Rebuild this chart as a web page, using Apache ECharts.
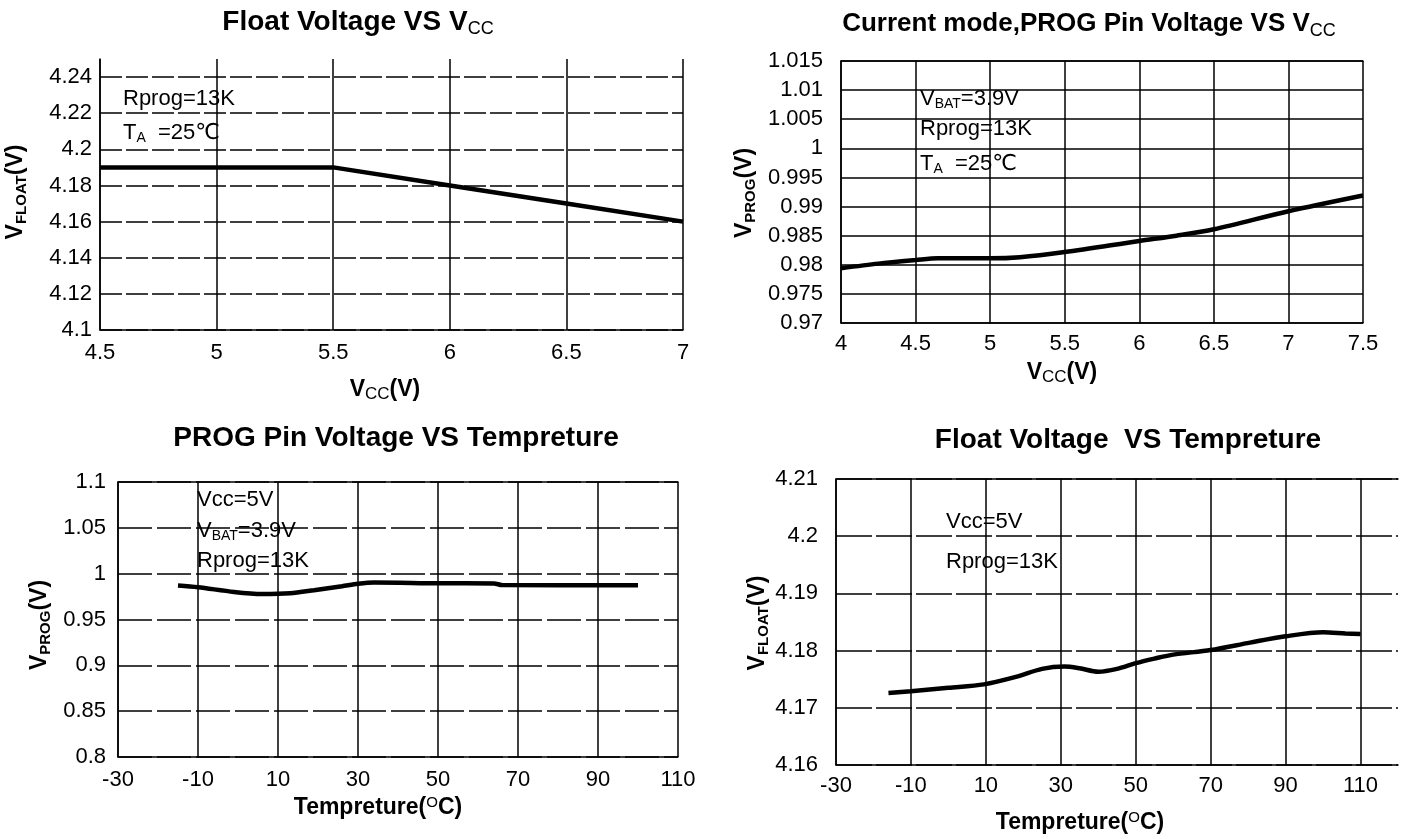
<!DOCTYPE html>
<html>
<head>
<meta charset="utf-8">
<script src="https://cdn.jsdelivr.net/npm/echarts@6/dist/echarts.min.js"></script>
<style>
html,body{margin:0;padding:0;background:#fff;}
#c{width:1410px;height:839px;}
</style>
</head>
<body>
<div id="c"></div>
<script>
// ---------- Data ----------
// Chart 1: Float Voltage VS Vcc
const vcc1 = [4.5, 5.0, 5.5, 6.0, 6.5, 7.0];
const vfloat1 = [4.19, 4.19, 4.19, 4.18, 4.17, 4.16];
const xTicks1 = [4.5, 5, 5.5, 6, 6.5, 7];
const yTicks1 = [4.1, 4.12, 4.14, 4.16, 4.18, 4.2, 4.22, 4.24];

// Chart 2: Current mode, PROG Pin Voltage VS Vcc
const vcc2 = [4.0, 4.25, 4.5, 4.65, 5.0, 5.2, 5.5, 6.0, 6.25, 6.5, 7.0, 7.5];
const vprog2 = [0.9794, 0.9802, 0.9808, 0.9811, 0.9811, 0.9813, 0.9822, 0.9841, 0.985, 0.9861, 0.9892, 0.9919];
const xTicks2 = [4, 4.5, 5, 5.5, 6, 6.5, 7, 7.5];
const yTicks2 = [0.97, 0.975, 0.98, 0.985, 0.99, 0.995, 1, 1.005, 1.01, 1.015];

// Chart 3: PROG Pin Voltage VS Temperature
const temp3 = [-15, -10, -1, 6, 13, 19, 26, 30, 34, 50, 64, 66, 100];
const vprog3 = [0.9871, 0.9852, 0.9801, 0.9779, 0.9787, 0.982, 0.9863, 0.989, 0.9904, 0.9895, 0.9893, 0.9876, 0.9874];
const xTicks3 = [-30, -10, 10, 30, 50, 70, 90, 110];
const yTicks3 = [0.8, 0.85, 0.9, 0.95, 1, 1.05, 1.1];

// Chart 4: Float Voltage VS Temperature
const temp4 = [-16, -10, 0, 9.5, 18, 25, 31, 35, 40, 45, 50, 55, 60, 70, 80.5, 90, 100, 106, 110];
const vfloat4 = [4.1726, 4.1729, 4.1735, 4.1741, 4.1754, 4.1768, 4.1772, 4.1769, 4.1763, 4.1768, 4.1778, 4.1786, 4.1793, 4.1801, 4.1814, 4.1825, 4.1832, 4.1830, 4.1829];
const xTicks4 = [-30, -10, 10, 30, 50, 70, 90, 110];
const yTicks4 = [4.16, 4.17, 4.18, 4.19, 4.2, 4.21];

// ---------- Helpers ----------
const FONT = '"Liberation Sans", Arial, "DejaVu Sans", sans-serif';
const fmt = v => String(+(+v).toFixed(4));
const zip = (a, b) => a.map((v, i) => [v, b[i]]);

function mkX(gi, min, max, ticks, margin) {
  return {
    type: 'value', gridIndex: gi, min: min, max: max, position: 'bottom',
    axisLine: {show: true, onZero: false, lineStyle: {color: '#000', width: 1.5}},
    axisTick: {show: false, customValues: ticks},
    axisLabel: {customValues: ticks, color: '#000', fontFamily: FONT, fontSize: 22, margin: margin, formatter: fmt},
    splitLine: {show: true, lineStyle: {color: '#000', width: 1.5, type: 'solid'}}
  };
}
function mkTop(gi, min, max) {
  return {
    type: 'value', gridIndex: gi, min: min, max: max, position: 'top',
    axisLine: {show: true, onZero: false, lineStyle: {color: '#000', width: 1.5}},
    axisTick: {show: false}, axisLabel: {show: false}, splitLine: {show: false}
  };
}
function mkY(gi, min, max, ticks, margin, dash) {
  return {
    type: 'value', gridIndex: gi, min: min, max: max,
    axisLine: {show: true, onZero: false, lineStyle: {color: '#000', width: 1.5}},
    axisTick: {show: false, customValues: ticks},
    axisLabel: {customValues: ticks, color: '#000', fontFamily: FONT, fontSize: 22, margin: margin, formatter: fmt},
    splitLine: {show: true, lineStyle: {color: '#000', width: 1.5, type: dash || 'solid'}}
  };
}
function mkLine(xi, yi, xs, ys, smooth) {
  return {
    type: 'line', xAxisIndex: xi, yAxisIndex: yi, data: zip(xs, ys),
    showSymbol: false, smooth: smooth, silent: true,
    lineStyle: {color: '#000', width: 4.5}
  };
}

const rich = {
  t: {fontFamily: FONT, fontSize: 28, fontWeight: 'bold', fill: '#000', lineHeight: 32},
  t2: {fontFamily: FONT, fontSize: 26, fontWeight: 'bold', fill: '#000', lineHeight: 32},
  ts: {fontFamily: FONT, fontSize: 18, fontWeight: 'normal', fill: '#000', lineHeight: 18, verticalAlign: 'bottom'},
  n: {fontFamily: FONT, fontSize: 23, fontWeight: 'bold', fill: '#000', lineHeight: 26},
  ns: {fontFamily: FONT, fontSize: 15, fontWeight: 'bold', fill: '#000', lineHeight: 15, verticalAlign: 'bottom'},
  nr: {fontFamily: FONT, fontSize: 17, fontWeight: 'normal', fill: '#000', lineHeight: 17, verticalAlign: 'bottom'},
  nsup: {fontFamily: FONT, fontSize: 15, fontWeight: 'normal', fill: '#000', lineHeight: 15, verticalAlign: 'top'},
  a: {fontFamily: FONT, fontSize: 22, fontWeight: 'normal', fill: '#000', lineHeight: 25},
  as: {fontFamily: FONT, fontSize: 14, fontWeight: 'normal', fill: '#000', lineHeight: 14, verticalAlign: 'bottom'}
};

function txt(x, y, text, align, rot) {
  return {
    type: 'text', x: x, y: y, rotation: rot || 0, silent: true, z: 100,
    style: {text: text, rich: rich, align: align || 'center', verticalAlign: 'middle', fill: '#000', font: '22px ' + FONT}
  };
}

const graphics = [
  // titles
  txt(358, 22, '{t|Float Voltage VS V}{ts|CC}'),
  txt(1089, 24, '{t2|Current mode,PROG Pin Voltage VS V}{ts|CC}'),
  txt(396, 438, '{t|PROG Pin Voltage VS Tempreture}'),
  txt(1128, 440, '{t|Float Voltage  VS Tempreture}'),
  // axis names
  txt(16, 192, '{n|V}{ns|FLOAT}{n|(V)}', 'center', Math.PI / 2),
  txt(385, 390, '{n|V}{nr|CC}{n|(V)}'),
  txt(745, 193, '{n|V}{ns|PROG}{n|(V)}', 'center', Math.PI / 2),
  txt(1062, 373, '{n|V}{nr|CC}{n|(V)}'),
  txt(40, 625, '{n|V}{ns|PROG}{n|(V)}', 'center', Math.PI / 2),
  txt(378, 808, '{n|Tempreture(}{nsup|O}{n|C)}'),
  txt(758, 623, '{n|V}{ns|FLOAT}{n|(V)}', 'center', Math.PI / 2),
  txt(1080, 823, '{n|Tempreture(}{nsup|O}{n|C)}'),
  // annotations
  txt(123, 99, '{a|Rprog=13K}', 'left'),
  txt(123, 133, '{a|T}{as|A}{a|  =25℃}', 'left'),
  txt(920, 99, '{a|V}{as|BAT}{a|=3.9V}', 'left'),
  txt(920, 129, '{a|Rprog=13K}', 'left'),
  txt(920, 164, '{a|T}{as|A}{a|  =25℃}', 'left'),
  txt(197, 500, '{a|Vcc=5V}', 'left'),
  txt(197, 531, '{a|V}{as|BAT}{a|=3.9V}', 'left'),
  txt(197, 561, '{a|Rprog=13K}', 'left'),
  txt(946, 522, '{a|Vcc=5V}', 'left'),
  txt(946, 562, '{a|Rprog=13K}', 'left')
];

const option = {
  backgroundColor: '#fff',
  animation: false,
  grid: [
    {left: 100, top: 59, width: 583, height: 271},
    {left: 841, top: 61, width: 522, height: 262},
    {left: 118, top: 482, width: 560, height: 275},
    {left: 836, top: 479, width: 562, height: 286}
  ],
  xAxis: [
    mkX(0, 4.5, 7, xTicks1, 12),
    mkX(1, 4, 7.5, xTicks2, 10),
    mkX(2, -30, 110, xTicks3, 12),
    mkX(3, -30, 120, xTicks4, 10),
    mkTop(1, 4, 7.5),
    mkTop(2, -30, 110),
    mkTop(3, -30, 120)
  ],
  yAxis: [
    mkY(0, 4.1, 4.25, yTicks1, 8, [22, 4]),
    mkY(1, 0.97, 1.015, yTicks2, 18, 'solid'),
    mkY(2, 0.8, 1.1, yTicks3, 12, [34, 5]),
    mkY(3, 4.16, 4.21, yTicks4, 18, [36, 4])
  ],
  series: [
    mkLine(0, 0, vcc1, vfloat1, false),
    mkLine(1, 1, vcc2, vprog2, 0.3),
    mkLine(2, 2, temp3, vprog3, 0.3),
    mkLine(3, 3, temp4, vfloat4, 0.3)
  ],
  graphic: graphics
};

const chart = echarts.init(document.getElementById('c'), null, {renderer: 'canvas'});
chart.setOption(option);
</script>
</body>
</html>
